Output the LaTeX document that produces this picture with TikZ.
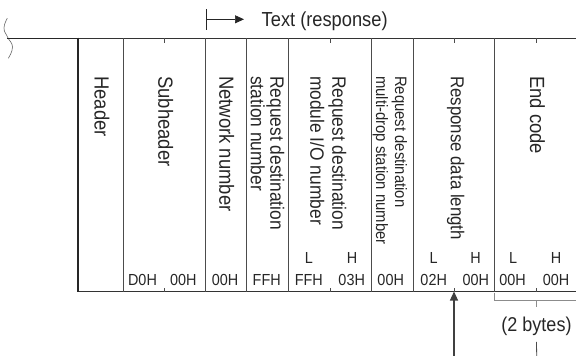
\documentclass[tikz,border=0pt]{standalone}
\usepackage{fontspec}
\setmainfont{Liberation Sans}[FakeStretch=0.9]
\usepackage{tikz}
\usetikzlibrary{arrows.meta,positioning}

\begin{document}
\begin{tikzpicture}[x=1pt,y=-1pt,
    field/.style={rotate=-90,anchor=west,inner sep=0pt,align=left,text=black!85,
      font=\fontsize{20.5}{22}\selectfont},
    twoline/.style={field,font=\fontsize{19.3}{19.5}\selectfont},
    smallfield/.style={field,font=\fontsize{16.5}{19}\selectfont},
    hexval/.style={anchor=base,inner sep=0pt,text=black!85,font=\fontsize{16}{18}\selectfont},
    frameline/.style={draw=black!80,line width=1.6pt},
    divider/.style={draw=black!70,line width=0.8pt},
    bytetick/.style={draw=black!70,line width=0.6pt}]
  \useasboundingbox (0,0) rectangle (576,356);

  % Break mark and the lead-in line
  \draw[black!60,line width=0.6pt] plot [smooth, tension=0.8] coordinates {(7.3,18.3) (4,28) (7.5,37) (12.5,47) (8.3,58.3)};
  \draw[black!85,line width=0.7pt] (7,38.3) -- (78,38.3);

  % Frame of the response message
  \draw[frameline] (576,38.3) -- (78,38.3);
  \draw[frameline] (78,291.5) -- (576,291.5);
  \draw[draw=black!85,line width=2.2pt] (78,37.5) -- (78,292.3);
  \foreach \x in {123,205.7,246.3,288.3,371.3,413.3,494.3}
    \draw[divider] (\x,38.3) -- (\x,291.5);
  \foreach \x in {164.3,330,454,536.7} {
    \draw[bytetick] (\x,38.3) -- (\x,42.5);
    \draw[bytetick] (\x,291.5) -- (\x,287.5);
  }

  % Field names
  \node[field] (header) at (102,76) {Header};
  \node[field] (subhdr) at (165.8,76) {Subheader};
  \node[field] (netno) at (226.7,76) {Network number};
  \node[twoline] (stno) at (267.5,76) {Request destination\\station number};
  \node[twoline,font=\fontsize{19.3}{22}\selectfont] (modio) at (328.3,76) {Request destination\\module I/O number};
  \node[smallfield] (mdrop) at (390,76) {Request destination\\multi-drop station number};
  \node[field,font=\fontsize{18.7}{20}\selectfont] (resplen) at (455.8,76) {Response data length};
  \node[field] (endcode) at (537.5,76) {End code};

  % Byte order and values
  \foreach \x/\b [count=\i] in {309/L,352/H,433.5/L,475.5/H,513/L,556/H}
    \node[hexval] (ord\i) at (\x,263.3) {\b};
  \foreach \x/\v [count=\i] in {142.5/D0H,183.3/00H,225/00H,266.7/FFH,308.8/FFH,351.7/03H,390.7/00H,433.7/02H,475.8/00H,512.5/00H,556/00H}
    \node[hexval] (val\i) at (\x,285.5) {\v};

  % Text (response)
  \coordinate (txtbar) at (206.7,19.3);
  \draw[black!85,line width=0.7pt] (206.7,9.3) -- (206.7,30);
  \node[anchor=base west,inner sep=0pt,text=black!85,font=\fontsize{20.3}{22}\selectfont] (txtresp) at (261.5,26.5) {Text (response)};
  \draw[black!85,line width=0.7pt,-{Triangle[length=9pt,width=8pt]}] (txtbar) -- (txtbar -| txtresp.west) [shorten >=17.5pt];

  % Pointer to the response data length
  \coordinate (lenptr) at (454,291.5);
  \coordinate (ptrfoot) at (454,356);
  \draw[black!75,line width=1.1pt,-{Triangle[length=9pt,width=8pt]}] (ptrfoot) -- (lenptr);

  % End code size
  \draw[black!45,line width=0.6pt] (494.3,292.5) -- (494.3,300.5) -- (576,300.5);
  \draw[black!45,line width=0.6pt] (536.7,300.5) -- (536.7,307);
  \node[anchor=base,inner sep=0pt,text=black!85,font=\fontsize{20}{22}\selectfont] (twobytes) at (536.5,331.5) {(2 bytes)};
  \coordinate (bytefoot) at (536.7,356);
  \draw[black!70,line width=0.8pt] (twobytes.south) ++(0,6) -- (bytefoot);
\end{tikzpicture}
\end{document}
